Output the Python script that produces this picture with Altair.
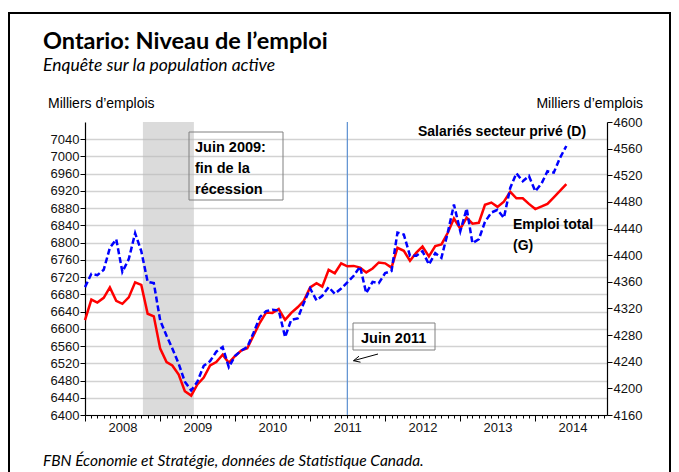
import altair as alt
import pandas as pd

# ---- data (monthly, Jan 2008 - Jun 2014) ----
months = [f"{y}-{m:02d}-01" for y in range(2008, 2015) for m in range(1, 13)][:78]

emploi_total = [
    6620, 6668, 6661, 6672, 6696, 6665, 6658, 6673, 6708, 6702, 6635, 6629,
    6554, 6523, 6515, 6494, 6455, 6445, 6471, 6487, 6515, 6523, 6540, 6521,
    6537, 6550, 6555, 6585, 6614, 6638, 6637, 6646, 6621, 6637, 6650, 6665,
    6696, 6706, 6698, 6737, 6729, 6752, 6745, 6746, 6742, 6731, 6740, 6754,
    6752, 6742, 6788, 6781, 6758, 6777, 6791, 6768, 6792, 6796, 6823, 6856,
    6832, 6858, 6844, 6846, 6888, 6893, 6883, 6895, 6918, 6903, 6903, 6890,
    6878, 6884, 6890, 6905, 6920, 6936,
]

salaries_prive = [
    4352, 4372, 4370, 4378, 4411, 4424, 4375, 4394, 4433, 4406, 4360, 4358,
    4302, 4279, 4260, 4237, 4210, 4197, 4210, 4234, 4241, 4255, 4262, 4232,
    4249, 4257, 4262, 4284, 4307, 4316, 4318, 4317, 4277, 4303, 4305, 4328,
    4350, 4332, 4339, 4352, 4342, 4350, 4359, 4369, 4383, 4343, 4360, 4358,
    4373, 4376, 4434, 4431, 4399, 4399, 4406, 4386, 4403, 4396, 4434, 4476,
    4436, 4470, 4418, 4424, 4450, 4464, 4468, 4456, 4501, 4523, 4511, 4519,
    4496, 4508, 4526, 4524, 4546, 4564,
]

recession = {"start": ["2008-10-09"], "end": ["2009-06-14"]}
juin_2011 = ["2011-07-01"]

left_ticks = list(range(6400, 7041, 40))
right_ticks = list(range(4160, 4601, 40))

df = pd.DataFrame({"mois": months, "total": emploi_total, "prive": salaries_prive})
df_rec = pd.DataFrame(recession)
df_vline = pd.DataFrame({"date": juin_2011})

W, H = 522, 293
x_domain = [pd.Timestamp("2008-01-01").value // 10**6, pd.Timestamp("2014-12-16").value // 10**6]
month_ticks = [pd.Timestamp(f"{y}-{m:02d}-01").value // 10**6 for y in range(2008, 2015) for m in range(1, 13)]

FONT = "Liberation Sans"

x_axis = alt.Axis(
    values=month_ticks,
    labelExpr="utcmonth(datum.value) == 6 ? '' + utcyear(datum.value) : ''",
    labelOverlap=False, labelFlush=False, labelBound=False,
    tickSize={"condition": {"test": "utcmonth(datum.value) == 0", "value": 6}, "value": 3},
    tickColor="black", tickWidth=1, domainColor="black", domainWidth=1.2,
    labelFont=FONT, labelFontSize=13, labelColor="#111", labelPadding=3,
    grid=False, title=None,
)
x_scale = alt.Scale(type="utc", domain=x_domain, nice=False)

def X(field):
    return alt.X(f"{field}:T", scale=x_scale, axis=x_axis)

shade = alt.Chart(df_rec).mark_rect(fill="#b8b8b8", opacity=0.5).encode(
    x=X("start"), x2="end:T", y=alt.value(0), y2=alt.value(H)
)

vline = alt.Chart(df_vline).mark_rule(color="#5b8fd0", strokeWidth=1.2).encode(
    x=X("date"), y=alt.value(0), y2=alt.value(H)
)

red = alt.Chart(df).mark_line(color="#ff0000", strokeWidth=2.5).encode(
    x=X("mois"),
    y=alt.Y("total:Q",
            scale=alt.Scale(domain=[6400, 7080], nice=False, zero=False),
            axis=alt.Axis(orient="left", values=left_ticks, title=None, format="d",
                          grid=True, gridColor="#d2d2d2", gridWidth=1.5,
                          tickSize=5, tickColor="black", domainColor="black", domainWidth=1.2,
                          labelFont=FONT, labelFontSize=13, labelColor="#111", labelPadding=1)),
)

blue = alt.Chart(df).mark_line(color="#0000ff", strokeWidth=2.5, strokeDash=[6, 3]).encode(
    x=X("mois"),
    y=alt.Y("prive:Q",
            scale=alt.Scale(domain=[4160, 4600], nice=False, zero=False),
            axis=alt.Axis(orient="right", values=right_ticks, title=None, grid=False, format="d",
                          tickSize=5, tickColor="black", domainColor="black", domainWidth=1.2,
                          labelFont=FONT, labelFontSize=13, labelColor="#111", labelPadding=1)),
)

one = alt.Data(values=[{"k": 1}])

def txt(text, x, y, size=14, weight="normal", style="normal", font=FONT, align="left", lh=None):
    kw = dict(align=align, baseline="alphabetic", fontSize=size, fontWeight=weight,
              fontStyle=style, font=font, color="black")
    if lh:
        kw["lineHeight"] = lh
    return alt.Chart(one).mark_text(**kw).encode(
        x=alt.value(x), y=alt.value(y), text=alt.value(text))

def box(x, x2, y, y2, color="#808080", width=1):
    return alt.Chart(one).mark_rect(fill="white", fillOpacity=0, stroke=color, strokeWidth=width).encode(
        x=alt.value(x), x2=alt.value(x2), y=alt.value(y), y2=alt.value(y2))

def seg(x, y, x2, y2, color="black", width=1):
    return alt.Chart(one).mark_rule(color=color, strokeWidth=width).encode(
        x=alt.value(x), x2=alt.value(x2), y=alt.value(y), y2=alt.value(y2))

annots = [
    txt("Ontario: Niveau de l\u2019emploi", -42, -73, size=23.5, weight="bold", font="Lato"),
    txt("Enquête sur la population active", -42, -51, size=17.5, style="italic", font="Lato"),
    txt("Milliers d\u2019emplois", -37, -14, size=14),
    txt("Milliers d\u2019emplois", 558, -14, size=14, align="right"),
    txt("FBN Économie et Stratégie, données de Statistique Canada.", -42, 344, size=15.5, style="italic", font="Lato"),
    box(104, 198, 10, 78),
    txt(["Juin 2009:", "fin de la", "récession"], 110, 30, size=14.5, weight="bold", lh=21),
    box(268, 350, 201, 228),
    txt("Juin 2011", 276, 221, size=14.5, weight="bold"),
    seg(293, 232, 268.5, 238.7),
    seg(268.5, 238.7, 275.5, 240.2),
    seg(268.5, 238.7, 274, 234.2),
    txt("Salariés secteur privé (D)", 333, 14, size=14, weight="bold"),
    txt(["Emploi total", "(G)"], 428, 107, size=14, weight="bold", lh=21),
    # outer frame
    seg(-76, -109, -76, 400, width=2),
    seg(-77, -109, 586, -109, width=2),
    seg(585, -109, 585, 400, width=2),
]

lines = alt.layer(red, blue).resolve_scale(y="independent")

chart = alt.layer(shade, vline, lines, *annots).properties(
    width=W, height=H,
    padding={"left": 77, "top": 114, "right": 64, "bottom": 57},
    autosize=alt.AutoSizeParams(type="none"),
).configure_view(stroke=None)

chart.save("out.html", embed_options={"renderer": "svg", "actions": False})
